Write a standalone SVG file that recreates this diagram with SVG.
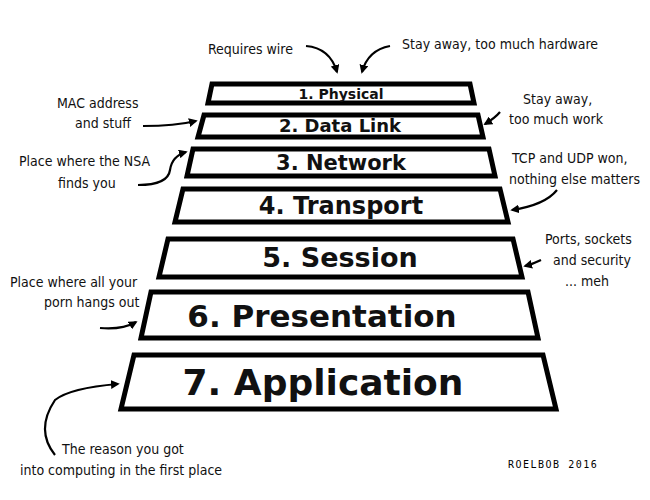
<svg xmlns="http://www.w3.org/2000/svg" width="650" height="500" viewBox="0 0 650 500">
<style>
.box{fill:#fff;stroke:#000;stroke-width:5;stroke-linejoin:miter}
.lbl{font-family:"DejaVu Sans",sans-serif;font-weight:bold;text-anchor:middle;fill:#111}
.note{font-family:"DejaVu Sans Condensed","DejaVu Sans",sans-serif;font-size:14px;fill:#111}
.c{fill:none;stroke:#000;stroke-width:2.2;marker-end:url(#ah)}
</style>
<defs><marker id="ah" viewBox="0 0 10 10" refX="8" refY="5" markerWidth="4" markerHeight="4" orient="auto"><path d="M0,0L10,5L0,10Z"/></marker></defs>
<rect width="650" height="500" fill="#fff"/>
<g id="n1"><polygon class="box" points="212,84 470,84 474,103 208,103"/><text class="lbl" x="341" y="99" font-size="14">1. Physical</text></g>
<g id="n2"><polygon class="box" points="204,115 478,115 483,137 198,137"/><text class="lbl" x="340" y="132" font-size="18">2. Data Link</text></g>
<g id="n3"><polygon class="box" points="193,149 489,149 495,176 187,176"/><text class="lbl" x="341" y="170" font-size="21">3. Network</text></g>
<g id="n4"><polygon class="box" points="183,189 500,189 508,222 175,222"/><text class="lbl" x="341" y="214" font-size="24">4. Transport</text></g>
<g id="n5"><polygon class="box" points="168,239 513,239 522,277 159,277"/><text class="lbl" x="340" y="267" font-size="27">5. Session</text></g>
<g id="n6"><polygon class="box" points="151,292 528,292 538,338 141,338"/><text class="lbl" x="322" y="327" font-size="31">6. Presentation</text></g>
<g id="n7"><polygon class="box" points="134,355 543,355 556,409 121,409"/><text class="lbl" x="323" y="395" font-size="36">7. Application</text></g>
<g id="notes">
<text class="note" x="208" y="54">Requires wire</text>
<text class="note" x="402" y="49">Stay away, too much hardware</text>
<text class="note" x="57" y="108">MAC address</text><text class="note" x="75" y="128">and stuff</text>
<text class="note" x="19" y="166">Place where the NSA</text><text class="note" x="58" y="188">finds you</text>
<text class="note" x="523" y="104">Stay away,</text><text class="note" x="509" y="124">too much work</text>
<text class="note" x="512" y="163">TCP and UDP won,</text><text class="note" x="509" y="184">nothing else matters</text>
<text class="note" x="545" y="244">Ports, sockets</text><text class="note" x="553" y="265">and security</text><text class="note" x="565" y="286">... meh</text>
<text class="note" x="10" y="287">Place where all your</text><text class="note" x="44" y="307">porn hangs out</text>
<text class="note" x="62" y="454">The reason you got</text><text class="note" x="20" y="475">into computing in the first place</text>
<text x="508" y="468" font-family="DejaVu Sans Mono,monospace" font-size="10" letter-spacing="1.5">ROELBOB 2016</text>
</g>
<g id="connectors">
<path class="c" d="M306,46 Q330,48 337,72"/>
<path class="c" d="M390,46 Q368,50 362,72"/>
<path class="c" d="M143,126 Q175,126 196,121"/>
<path class="c" d="M138,185 Q168,185 170,170 Q172,156 186,152"/>
<path class="c" d="M500,112 Q495,118 485,124"/>
<path class="c" d="M557,190 Q545,205 512,210"/>
<path class="c" d="M541,260 Q533,264 525,266"/>
<path class="c" d="M100,328 Q122,330 136,322"/>
<path class="c" d="M55,455 Q35,430 55,400 Q70,388 118,384"/>
</g>
</svg>
